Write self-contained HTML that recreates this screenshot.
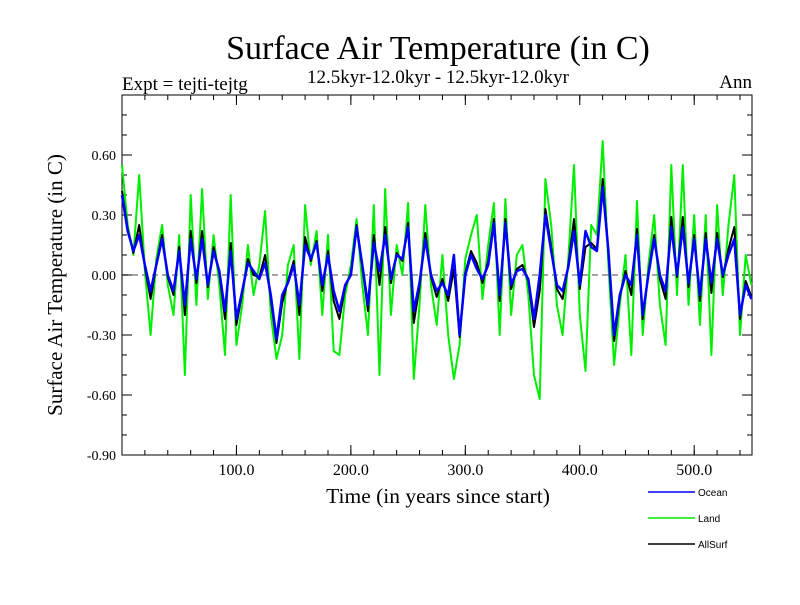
<!DOCTYPE html>
<html><head><meta charset="utf-8"><style>
html,body{margin:0;padding:0;background:#fff;}
svg text{font-family:"Liberation Serif",serif;}
</style></head><body>
<svg id="chart" width="800" height="600" viewBox="0 0 800 600">
<text x="438" y="59" font-size="34" text-anchor="middle">Surface Air Temperature (in C)</text>
<text x="438" y="83" font-size="19" text-anchor="middle">12.5kyr-12.0kyr - 12.5kyr-12.0kyr</text>
<text x="122" y="90" font-size="19">Expt = tejti-tejtg</text>
<text x="752" y="88" font-size="19" text-anchor="end">Ann</text>
<text x="438" y="503" font-size="21.5" text-anchor="middle">Time (in years since start)</text>
<text transform="translate(62,285) rotate(-90)" font-size="21" text-anchor="middle">Surface Air Temperature (in C)</text>
<g id="axes"></g>
<g id="series"></g>
<g id="legend"></g>
</svg>
<script>
const years=[0,5,10,15,20,25,30,35,40,45,50,55,60,65,70,75,80,85,90,95,100,105,110,115,120,125,130,135,140,145,150,155,160,165,170,175,180,185,190,195,200,205,210,215,220,225,230,235,240,245,250,255,260,265,270,275,280,285,290,295,300,305,310,315,320,325,330,335,340,345,350,355,360,365,370,375,380,385,390,395,400,405,410,415,420,425,430,435,440,445,450,455,460,465,470,475,480,485,490,495,500,505,510,515,520,525,530,535,540,545,550];
const ocean=[0.40,0.22,0.12,0.20,0.05,-0.08,0.05,0.18,0.0,-0.08,0.12,-0.15,0.18,-0.02,0.18,-0.05,0.12,0.02,-0.18,0.12,-0.22,-0.08,0.06,0.02,-0.02,0.06,-0.10,-0.32,-0.10,-0.04,0.05,-0.15,0.15,0.08,0.16,-0.05,0.10,-0.08,-0.18,-0.05,0.0,0.24,0.05,-0.15,0.16,0.02,0.20,-0.02,0.10,0.08,0.24,-0.18,-0.04,0.18,0.0,-0.08,-0.04,-0.10,0.10,-0.30,0.0,0.10,0.03,-0.02,0.05,0.26,-0.10,0.26,-0.05,0.02,0.03,-0.02,-0.22,0.0,0.30,0.12,-0.05,-0.08,0.04,0.22,-0.05,0.22,0.14,0.12,0.44,0.12,-0.30,-0.10,0.0,-0.05,0.20,-0.20,0.0,0.18,0.0,-0.08,0.24,0.0,0.24,-0.04,0.18,-0.10,0.18,-0.04,0.18,0.0,0.10,0.18,-0.20,-0.05,-0.12];
const land=[0.55,0.25,0.10,0.50,0.02,-0.30,0.08,0.25,-0.05,-0.20,0.20,-0.50,0.40,-0.15,0.43,-0.12,0.20,-0.05,-0.40,0.40,-0.35,-0.15,0.15,-0.10,0.05,0.32,-0.20,-0.42,-0.30,0.05,0.15,-0.42,0.35,0.05,0.22,-0.20,0.20,-0.38,-0.40,-0.10,0.05,0.28,-0.05,-0.30,0.35,-0.50,0.43,-0.20,0.15,0.0,0.36,-0.52,-0.15,0.35,-0.05,-0.25,0.10,-0.30,-0.52,-0.35,0.08,0.20,0.30,-0.12,0.15,0.36,-0.30,0.38,-0.20,0.10,0.15,-0.10,-0.50,-0.62,0.48,0.25,-0.15,-0.30,0.08,0.55,-0.20,-0.48,0.25,0.20,0.67,0.05,-0.45,-0.15,0.10,-0.40,0.37,-0.30,0.05,0.30,-0.15,-0.35,0.55,-0.10,0.55,-0.15,0.30,-0.25,0.30,-0.40,0.35,-0.10,0.25,0.50,-0.30,0.10,-0.05];
const allsurf=[0.42,0.23,0.11,0.25,0.04,-0.12,0.05,0.20,-0.01,-0.10,0.14,-0.20,0.22,-0.04,0.22,-0.06,0.14,0.01,-0.22,0.16,-0.25,-0.09,0.08,0.0,-0.01,0.10,-0.12,-0.34,-0.14,-0.03,0.07,-0.20,0.19,0.07,0.17,-0.08,0.12,-0.13,-0.22,-0.06,0.01,0.25,0.04,-0.18,0.20,-0.05,0.24,-0.04,0.11,0.07,0.26,-0.24,-0.06,0.21,-0.01,-0.11,-0.02,-0.13,0.03,-0.31,0.01,0.12,0.06,-0.04,0.07,0.28,-0.13,0.28,-0.07,0.03,0.05,-0.03,-0.26,-0.08,0.33,0.14,-0.07,-0.12,0.05,0.28,-0.07,0.14,0.16,0.13,0.48,0.11,-0.33,-0.11,0.02,-0.10,0.23,-0.22,0.01,0.20,-0.02,-0.12,0.29,-0.01,0.29,-0.06,0.20,-0.13,0.21,-0.09,0.21,-0.01,0.13,0.24,-0.22,-0.03,-0.11];
const yTickValues=[-0.90,-0.60,-0.30,0.00,0.30,0.60];
const yTickLabels=["-0.90","-0.60","-0.30","0.00","0.30","0.60"];
const xTickValues=[100,200,300,400,500];
const xTickLabels=["100.0","200.0","300.0","400.0","500.0"];
const legendNames=["Ocean","Land","AllSurf"];
const legendColors=["#0000ff","#00ee00","#000000"];

const L=122,R=752,T=95,B=455,X0=0,X1=550.5,Y0=-0.9,Y1=0.9;
function xs(v){return L+(v-X0)/(X1-X0)*(R-L);}
function ys(v){return B-(v-Y0)/(Y1-Y0)*(B-T);}
const NS="http://www.w3.org/2000/svg";
function mk(tag,attrs,parent){const e=document.createElementNS(NS,tag);for(const k in attrs)e.setAttribute(k,attrs[k]);parent.appendChild(e);return e;}
const axes=document.getElementById('axes');
let zl=mk('line',{x1:L,x2:R,y1:ys(0),y2:ys(0),stroke:'#888','stroke-width':1.5,'stroke-dasharray':'6,4'},axes);


const series=document.getElementById('series');
function drawLine(vals,color,name,w){
  const d=vals.map((v,i)=>(i?'L':'M')+xs(years[i]).toFixed(1)+','+ys(v).toFixed(1)).join('');
  const p=mk('path',{d:d,fill:'none',stroke:color,'stroke-width':w,'stroke-linejoin':'round'},series);
  
  
}
drawLine(land,'#00ee00','land-series',2);
drawLine(allsurf,'#000000','allsurf-series',2);
drawLine(ocean,'#0000ff','ocean-series',2.5);
let fr=mk('rect',{x:L,y:T,width:R-L,height:B-T,fill:'none',stroke:'#000','stroke-width':1},axes);


for(let v=-0.8;v<0.85;v+=0.1){
  const y=ys(v);
  mk('line',{x1:L,x2:L+5,y1:y,y2:y,stroke:'#000'},axes);
  mk('line',{x1:R,x2:R-5,y1:y,y2:y,stroke:'#000'},axes);
}
yTickValues.forEach((v,i)=>{
  const y=ys(v);
  mk('line',{x1:L,x2:L+10,y1:y,y2:y,stroke:'#000'},axes);
  mk('line',{x1:R,x2:R-10,y1:y,y2:y,stroke:'#000'},axes);
  const t=mk('text',{x:L-6,y:y+5,'font-size':14,'text-anchor':'end'},axes);
  t.textContent=yTickLabels[i];
  
  
});
for(let v=20;v<550;v+=20){
  const x=xs(v);
  mk('line',{x1:x,x2:x,y1:B,y2:B-5,stroke:'#000'},axes);
  mk('line',{x1:x,x2:x,y1:T,y2:T+5,stroke:'#000'},axes);
}
xTickValues.forEach((v,i)=>{
  const x=xs(v);
  mk('line',{x1:x,x2:x,y1:B,y2:B-10,stroke:'#000'},axes);
  mk('line',{x1:x,x2:x,y1:T,y2:T+10,stroke:'#000'},axes);
  const t=mk('text',{x:x,y:B+20,'font-size':16,'text-anchor':'middle'},axes);
  t.textContent=xTickLabels[i];
  
  
});
const lg=document.getElementById('legend');
legendNames.forEach((n,i)=>{
  const y=492+i*26;
  const g=mk('g',{},lg);
  
  
  mk('line',{x1:648,x2:695,y1:y,y2:y,stroke:legendColors[i],'stroke-width':1.5},g);
  const t=mk('text',{x:698,y:y+4,'font-size':10,style:'font-family:"Liberation Sans",sans-serif'},g);
  t.textContent=n;
});
</script>
</body></html>
